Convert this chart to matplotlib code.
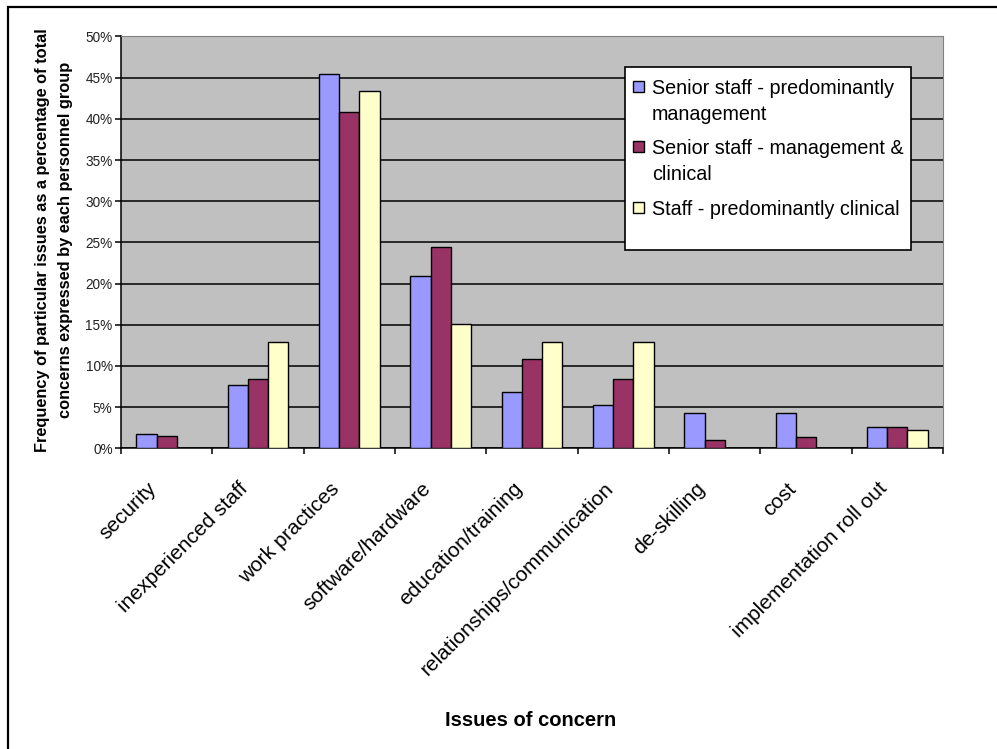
import numpy as np
import matplotlib
matplotlib.use('Agg')
import matplotlib.pyplot as plt
from matplotlib.patches import Rectangle
from matplotlib.ticker import PercentFormatter, MultipleLocator
from matplotlib.transforms import ScaledTranslation

plt.rcParams['font.family'] = ['Liberation Sans', 'DejaVu Sans']

# data (percent of each group's concerns)
issues = ['security', 'inexperienced staff', 'work practices',
          'software/hardware', 'education/training',
          'relationships/communication', 'de-skilling', 'cost',
          'implementation roll out']
senior_mgmt = [1.7, 7.7, 45.4, 20.9, 6.8, 5.2, 4.3, 4.3, 2.6]
senior_mgmt_clin = [1.5, 8.4, 40.8, 24.5, 10.9, 8.4, 1.0, 1.4, 2.6]
staff_clin = [0.0, 12.9, 43.4, 15.1, 12.9, 12.9, 0.0, 0.0, 2.2]

series_names = ['Senior staff - predominantly\nmanagement',
                'Senior staff - management &\nclinical',
                'Staff - predominantly clinical']
colors = ['#9999FF', '#993366', '#FFFFCC']

W, H = 997, 749
fig = plt.figure(figsize=(W / 100, H / 100), dpi=100)
fig.patch.set_facecolor('white')

# outer chart border (only left/top visible in the picture)
fig.patches.append(Rectangle((8 / W, -0.05), 1.2, 1 - 7 / H + 0.05,
                             transform=fig.transFigure, fill=False,
                             edgecolor='black', linewidth=1.6))

ax = fig.add_axes([121 / W, 1 - 448.3 / H, 822 / W, 411.8 / H])
ax.set_facecolor('#C0C0C0')

x = np.arange(len(issues))
bw = 1 / 4.5
all_series = [senior_mgmt, senior_mgmt_clin, staff_clin]
for i, (vals, c) in enumerate(zip(all_series, colors)):
    ax.bar(x + (i - 1) * bw, np.array(vals) / 100, width=bw, color=c,
           edgecolor='black', linewidth=1.0, zorder=3)

ax.set_xlim(-0.5, len(issues) - 0.5)
ax.set_ylim(0, 0.5)
ax.yaxis.set_major_locator(MultipleLocator(0.05))
ax.yaxis.set_major_formatter(PercentFormatter(1.0, decimals=0))
ax.grid(axis='y', color='black', linewidth=1.1, zorder=1)
ax.set_axisbelow(True)

for s in ['top', 'right']:
    ax.spines[s].set_color('#808080')
    ax.spines[s].set_linewidth(0.8)
for s in ['left', 'bottom']:
    ax.spines[s].set_color('black')
    ax.spines[s].set_linewidth(1.1)

ax.tick_params(axis='y', length=4, width=1.1, pad=2, labelsize=9.8,
               labelcolor='#222222')
ax.set_xticks(x)
ax.set_xticks(np.arange(len(issues) + 1) - 0.5, minor=True)
ax.tick_params(axis='x', which='minor', length=4, width=1.1)
ax.tick_params(axis='x', which='major', length=0, pad=27)
ax.set_xticklabels(issues, rotation=45, ha='right', va='center',
                   rotation_mode='anchor', fontsize=15)
for lab in ax.get_xticklabels():
    lab.set_transform(lab.get_transform() +
                      ScaledTranslation(-0.13, 0, fig.dpi_scale_trans))

fig.text(54 / W, 1 - 240 / H,
         'Frequency of particular issues as a percentage of total\n'
         'concerns expressed by each personnel group',
         rotation=90, ha='center', va='center', ma='center',
         fontsize=11.8, fontweight='bold', linespacing=1.7)
fig.text(531 / W, 1 - 720 / H, 'Issues of concern', ha='center',
         va='center', fontsize=14.5, fontweight='bold')

# legend box drawn like the original (square aligned with first line)
fig.patches.append(Rectangle((625 / W, 1 - 250 / H), 286 / W, 183 / H,
                             transform=fig.transFigure, facecolor='white',
                             edgecolor='black', linewidth=1.2, zorder=5))
base_lines = [[94.3, 120], [154.3, 180], [215]]
for name, c, bl in zip(series_names, colors, base_lines):
    fig.patches.append(Rectangle((633 / W, 1 - (bl[0] - 2) / H),
                                 11 / W, 11 / H,
                                 transform=fig.transFigure, facecolor=c,
                                 edgecolor='black', linewidth=1.0, zorder=6))
    for line, y in zip(name.split('\n'), bl):
        fig.text(652 / W, 1 - y / H, line, ha='left', va='baseline',
                 fontsize=14.2, zorder=7)

fig.savefig('out.png', dpi=100)
